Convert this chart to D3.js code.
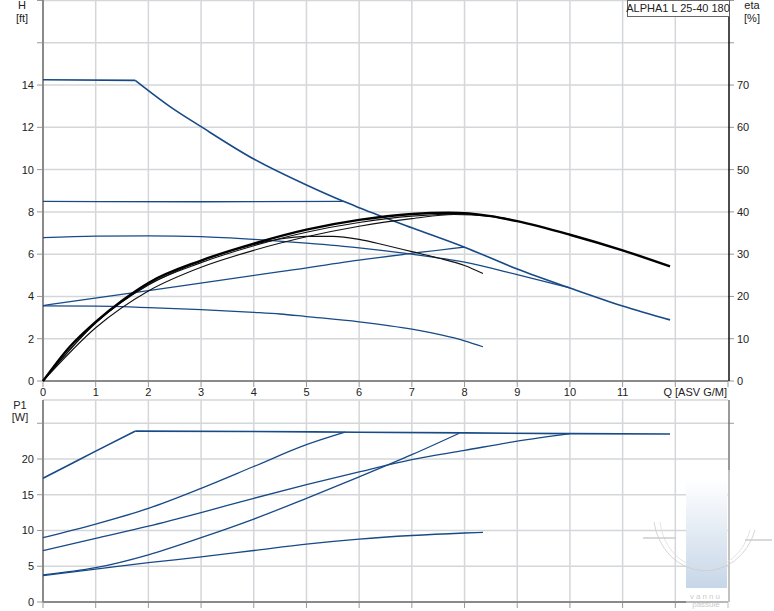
<!DOCTYPE html>
<html><head><meta charset="utf-8">
<script src="https://cdn.jsdelivr.net/npm/d3@7"></script>
<style>
body{margin:0;background:#fff;}
text{font-family:"Liberation Sans",Arial,sans-serif;font-size:11px;fill:#222;}
</style></head>
<body>
<svg id="c" width="774" height="611"></svg>
<script>
// ---------- data ----------
const qTicks = [0,1,2,3,4,5,6,7,8,9,10,11,12,13];
const qLabels = [0,1,2,3,4,5,6,7,8,9,10,11];
const hTicks = [0,2,4,6,8,10,12,14,16,18];
const hLabels = [0,2,4,6,8,10,12,14];
const etaLabels = [0,10,20,30,40,50,60,70];
const pTicks = [0,5,10,15,20,25];
const pLabels = [0,5,10,15,20];
const title = "ALPHA1 L 25-40 180";

// head curves (Q, H ft)
const hMaxFlat = [[0,14.25],[1.75,14.22]];
const hMax = [[1.75,14.22],[2.41,12.98],[3,12.03],[4,10.5],[5,9.27],[5.7,8.5],[6,8.2],[7,7.25],[8,6.33],[9,5.3],[10,4.4],[11,3.55],[11.9,2.89]];
const hConst = [[0,8.5],[3,8.48],[5.7,8.5]];
const hSpeed2 = [[0,6.78],[1,6.85],[2,6.87],[3,6.83],[4,6.7],[5,6.52],[6,6.3],[7,6.0],[8,5.62],[9,5.03],[10,4.4]];
const hProp = [[0,3.57],[2,4.28],[4.5,5.17],[6,5.72],[8,6.33]];
const hLow = [[0,3.55],[1,3.54],[2,3.47],[3,3.38],[4,3.25],[4.5,3.17],[5,3.05],[6,2.8],[7,2.45],[8,1.9],[8.35,1.62]];

// efficiency curves (Q, eta %)
const eta1 = [[0,0],[0.5,8],[1,14],[1.5,19],[2,23.2],[3,28.5],[4,32.5],[5,35.8],[6,38.1],[7,39.5],[7.7,39.8],[8.5,39],[9,37.8],[10,34.6],[11,30.9],[11.9,27.1]];
const eta2 = [[0,0],[1,13.7],[2,22.8],[3,28],[4,32],[5,35.2],[6,37.5],[7,39],[8,39.5],[9,37.8]];
const eta3 = [[0,0],[1,12.6],[2,21.3],[3,26.9],[4,30.9],[5,34.1],[6,36.6],[7,38.4],[7.8,39.4],[8.5,39],[9,37.8]];
const eta4 = [[0,0],[1,13.8],[2,22.7],[3,28.4],[4,32.3],[4.5,33.6],[5,34.2],[5.5,34.2],[6,33.5],[6.5,32.1],[7,30.6],[7.5,29.1],[8,27.3],[8.35,25.4]];

// power curves (Q, P1 W)
const pMaxRise = [[0,17.3],[0.5,19.2],[1,21.1],[1.75,23.9]];
const pMax = [[1.75,23.9],[4,23.85],[6,23.75],[8,23.65],[10,23.55],[11.9,23.5]];
const p2 = [[0,9],[1,10.9],[2,13.1],[3,15.9],[4,18.95],[5,22.0],[5.73,23.75]];
const p3 = [[0,7.2],[1,8.9],[2,10.6],[3,12.5],[4,14.5],[5,16.4],[6,18.2],[7,19.9],[8,21.2],[9,22.5],[10,23.55]];
const p4 = [[0,3.8],[1,4.8],[2,6.6],[3,9.0],[4,11.6],[5,14.5],[6,17.5],[7,20.6],[7.9,23.6]];
const p5 = [[0,3.7],[1,4.6],[2,5.5],[3,6.3],[4,7.2],[5,8.1],[6,8.8],[7,9.3],[8,9.65],[8.35,9.75]];

// ---------- drawing ----------
const svg = d3.select("#c");
const blue = "#174a86", grid = "#d4d6d9";
const x = d3.scaleLinear().domain([0,13]).range([43,728]);
const yH = d3.scaleLinear().domain([0,18]).range([381,0.5]);
const yE = d3.scaleLinear().domain([0,90]).range([381,0.5]);
const yP = d3.scaleLinear().domain([0,28.25]).range([602,400]);

function gridAndAxes(yScale, ticks, y0, y1){
  const g = svg.append("g");
  g.selectAll(null).data(qTicks.filter(d=>d>0 && d<13)).join("line")
    .attr("x1",d=>x(d)).attr("x2",d=>x(d)).attr("y1",y1).attr("y2",y0)
    .attr("stroke",grid).attr("stroke-width",1.5);
  g.selectAll(null).data(ticks.filter(d=>d>0)).join("line")
    .attr("x1",x(0)).attr("x2",x(13)).attr("y1",d=>yScale(d)).attr("y2",d=>yScale(d))
    .attr("stroke",grid).attr("stroke-width",1.5);
  g.selectAll(null).data(ticks).join("line")
    .attr("x1",37).attr("x2",x(0)).attr("y1",d=>yScale(d)).attr("y2",d=>yScale(d))
    .attr("stroke","#999").attr("stroke-width",1);
  g.selectAll(null).data(qTicks).join("line")
    .attr("x1",d=>x(d)).attr("x2",d=>x(d)).attr("y1",y0).attr("y2",y0+6)
    .attr("stroke","#999").attr("stroke-width",1);
  return g;
}

const gt = gridAndAxes(yH, hTicks, 381, 0);
gt.selectAll(null).data(hTicks).join("line")
  .attr("x1",x(13)).attr("x2",x(13)+6).attr("y1",d=>yH(d)).attr("y2",d=>yH(d))
  .attr("stroke","#999");
const gb = gridAndAxes(yP, pTicks, 602, 400);
gb.append("line").attr("x1",x(0)).attr("x2",x(13)).attr("y1",yP(28.25)).attr("y2",yP(28.25))
  .attr("stroke",grid).attr("stroke-width",1.5);
gb.append("line").attr("x1",x(13)).attr("x2",x(13)+6).attr("y1",yP(25)).attr("y2",yP(25)).attr("stroke","#999");

svg.append("line").attr("x1",x(0)).attr("x2",x(0)).attr("y1",0).attr("y2",381).attr("stroke","#8a8a8a").attr("stroke-width",2);
svg.append("line").attr("x1",x(0)).attr("x2",x(13)).attr("y1",381).attr("y2",381).attr("stroke","#8a8a8a").attr("stroke-width",2);
svg.append("line").attr("x1",x(13)+1).attr("x2",x(13)+1).attr("y1",0).attr("y2",381).attr("stroke","#111").attr("stroke-width",1.5);
svg.append("line").attr("x1",x(0)).attr("x2",x(0)).attr("y1",400).attr("y2",602).attr("stroke","#8a8a8a").attr("stroke-width",2);
svg.append("line").attr("x1",x(0)).attr("x2",x(13)).attr("y1",602).attr("y2",602).attr("stroke","#8a8a8a").attr("stroke-width",2);
svg.append("line").attr("x1",x(13)+1).attr("x2",x(13)+1).attr("y1",400).attr("y2",602).attr("stroke","#777").attr("stroke-width",1.5);

svg.selectAll(null).data(hLabels).join("text").attr("x",34).attr("y",d=>yH(d)+4).attr("text-anchor","end").text(d=>d);
svg.selectAll(null).data(etaLabels).join("text").attr("x",737).attr("y",d=>yE(d)+4).text(d=>d);
svg.selectAll(null).data(qLabels).join("text").attr("x",d=>x(d)).attr("y",396).attr("text-anchor","middle").text(d=>d);
svg.append("text").attr("x",727).attr("y",396).attr("text-anchor","end").text("Q [ASV G/M]");
svg.selectAll(null).data(pLabels).join("text").attr("x",34).attr("y",d=>yP(d)+4).attr("text-anchor","end").text(d=>d);
svg.append("text").attr("x",22).attr("y",9).attr("text-anchor","middle").text("H");
svg.append("text").attr("x",22).attr("y",22).attr("text-anchor","middle").text("[ft]");
svg.append("text").attr("x",752).attr("y",9).attr("text-anchor","middle").text("eta");
svg.append("text").attr("x",752).attr("y",22).attr("text-anchor","middle").text("[%]");
svg.append("text").attr("x",20).attr("y",409).attr("text-anchor","middle").text("P1");
svg.append("text").attr("x",20).attr("y",421).attr("text-anchor","middle").text("[W]");

svg.append("rect").attr("x",627.5).attr("y",0.5).attr("width",102).attr("height",16).attr("fill","#fff").attr("stroke","#666");
svg.append("text").attr("x",678).attr("y",12).attr("text-anchor","middle").text(title);

const lineH = d3.line().x(d=>x(d[0])).y(d=>yH(d[1])).curve(d3.curveMonotoneX);
const lineE = d3.line().x(d=>x(d[0])).y(d=>yE(d[1])).curve(d3.curveMonotoneX);
const lineP = d3.line().x(d=>x(d[0])).y(d=>yP(d[1])).curve(d3.curveMonotoneX);
const curves = svg.append("g").attr("fill","none").attr("stroke-linejoin","round");
[hConst,hSpeed2,hProp,hLow].forEach(s=>curves.append("path").attr("d",lineH(s)).attr("stroke",blue).attr("stroke-width",1.3));
[hMaxFlat,hMax].forEach(s=>curves.append("path").attr("d",lineH(s)).attr("stroke",blue).attr("stroke-width",1.6));
[eta2,eta3,eta4].forEach(s=>curves.append("path").attr("d",lineE(s)).attr("stroke","#111").attr("stroke-width",1.1));
curves.append("path").attr("d",lineE(eta1)).attr("stroke","#000").attr("stroke-width",2.4);
[p2,p3,p4,p5].forEach(s=>curves.append("path").attr("d",lineP(s)).attr("stroke",blue).attr("stroke-width",1.3));
[pMaxRise,pMax].forEach(s=>curves.append("path").attr("d",lineP(s)).attr("stroke",blue).attr("stroke-width",1.6));

// watermark
const defs = svg.append("defs");
const lg = defs.append("linearGradient").attr("id","wg").attr("x1",0).attr("x2",0).attr("y1",0).attr("y2",1);
lg.append("stop").attr("offset","0").attr("stop-color","#fff");
lg.append("stop").attr("offset","1").attr("stop-color","#c6d6e8");
const wm = svg.append("g");
wm.append("rect").attr("x",686).attr("y",470).attr("width",88).attr("height",141).attr("fill","#fff").attr("opacity",0.4);
wm.append("rect").attr("x",686).attr("y",478).attr("width",41).attr("height",110).attr("fill","url(#wg)");
wm.append("path").attr("d","M654,522 A52,58 0 0 0 755,530").attr("fill","none").attr("stroke","#ccc").attr("stroke-width",0.8);
wm.append("path").attr("d","M660,522 A46,52 0 0 0 750,530").attr("fill","none").attr("stroke","#ddd").attr("stroke-width",0.8);
wm.append("line").attr("x1",643).attr("x2",676).attr("y1",538).attr("y2",538).attr("stroke","#ccc").attr("stroke-width",1.5);
wm.append("line").attr("x1",745).attr("x2",772).attr("y1",540).attr("y2",540).attr("stroke","#ccc").attr("stroke-width",1.5);
wm.append("text").attr("x",706).attr("y",599).attr("text-anchor","middle").style("font-size","8px").style("fill","#ccc").style("letter-spacing","2px").text("vannu");
wm.append("text").attr("x",706).attr("y",607).attr("text-anchor","middle").style("font-size","8px").style("fill","#ccc").text("passule");
</script>
</body></html>
